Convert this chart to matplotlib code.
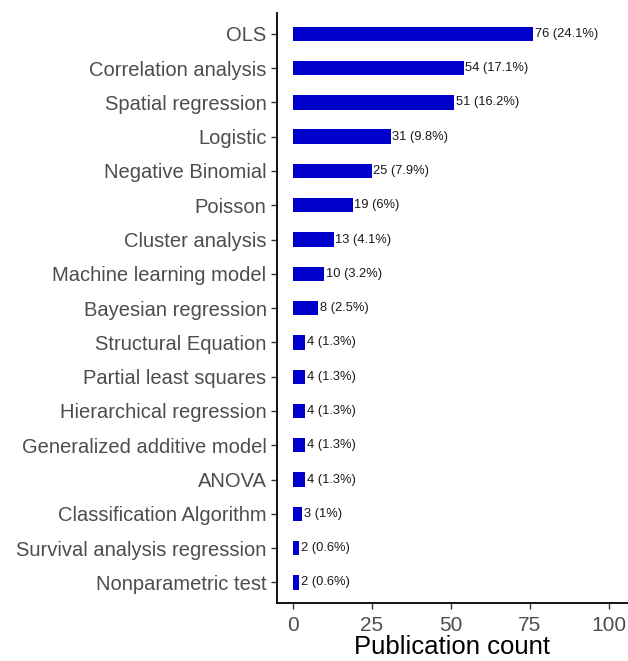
import matplotlib.pyplot as plt

# Method names and publication counts (top to bottom)
methods = ["OLS", "Correlation analysis", "Spatial regression", "Logistic",
           "Negative Binomial", "Poisson", "Cluster analysis",
           "Machine learning model", "Bayesian regression", "Structural Equation",
           "Partial least squares", "Hierarchical regression",
           "Generalized additive model", "ANOVA", "Classification Algorithm",
           "Survival analysis regression", "Nonparametric test"]
counts = [76, 54, 51, 31, 25, 19, 13, 10, 8, 4, 4, 4, 4, 4, 3, 2, 2]
percents = ["24.1%", "17.1%", "16.2%", "9.8%", "7.9%", "6%", "4.1%", "3.2%",
            "2.5%", "1.3%", "1.3%", "1.3%", "1.3%", "1.3%", "1%", "0.6%", "0.6%"]
xticks = [0, 25, 50, 75, 100]

plt.rcParams['font.family'] = ['Liberation Sans', 'DejaVu Sans']

fig = plt.figure(figsize=(6.28, 6.61), dpi=100)
ax = fig.add_axes([0.441, 0.0877, 0.559, 0.8923])

ypos = list(range(len(methods)))
ax.barh(ypos, counts, height=0.42, color='#0000CD', edgecolor='none')

for y, c, p in zip(ypos, counts, percents):
    ax.text(c + 0.5, y, f"{c} ({p})", va='center', ha='left',
            fontsize=9.3, color='#1a1a1a')

ax.set_yticks(ypos)
ax.set_yticklabels(methods, fontsize=14.5, color='#4D4D4D')
ax.set_ylim(len(methods) - 0.4, -0.6)
ax.set_xlim(-5, 106)
ax.set_xticks(xticks)
ax.set_xticklabels([str(t) for t in xticks], fontsize=15, color='#4D4D4D')
ax.set_xlabel("Publication count", fontsize=18.5, color='black', labelpad=0)

ax.spines['top'].set_visible(False)
ax.spines['right'].set_visible(False)
for s in ['left', 'bottom']:
    ax.spines[s].set_linewidth(1.3)
    ax.spines[s].set_color('black')
ax.tick_params(axis='both', length=4.5, width=1, color='#333333')
ax.tick_params(axis='y', pad=3)
ax.tick_params(axis='x', pad=5)

fig.savefig("out.png", dpi=100)
